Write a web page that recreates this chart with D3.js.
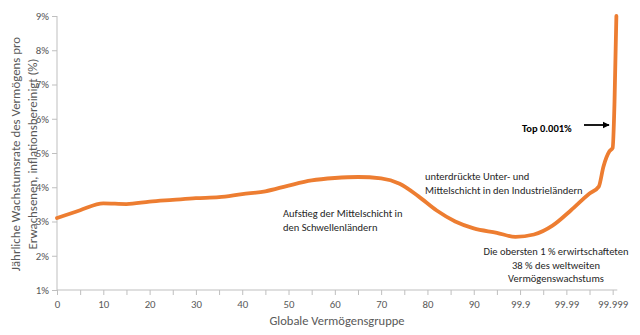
<!DOCTYPE html>
<html>
<head>
<meta charset="utf-8">
<script src="https://cdn.jsdelivr.net/npm/d3@7/dist/d3.min.js"></script>
<style>
  html, body { margin: 0; padding: 0; background: #fff; }
  svg { display: block; }
  text { font-family: Calibri, Carlito, Lato, sans-serif; }
</style>
</head>
<body>
<svg id="chart" width="640" height="335"></svg>
<script>
// Position along the wealth-group axis (each labelled step = 10 units)
const groupPos = [0, 5, 10, 15, 20, 25, 30, 35, 40, 45, 50, 55, 60, 65, 70, 74, 78, 82, 86, 90,
                  95, 99, 103, 107, 111, 115, 117, 118, 119.3, 120, 120.4, 120.8];
// Annual real wealth growth per adult (%)
const growth = [3.1, 3.33, 3.53, 3.51, 3.58, 3.63, 3.68, 3.71, 3.8, 3.88, 4.05, 4.2, 4.27, 4.3, 4.26, 4.1,
                3.74, 3.32, 3.0, 2.8, 2.67, 2.55, 2.62, 2.88, 3.33, 3.82, 4.02, 4.6, 5.05, 5.15, 6.5, 9.0];
// Tick positions and labels
const xTickPos = [0, 10, 20, 30, 40, 50, 60, 70, 80, 90, 100, 110, 120];
const xTickLabels = ["0", "10", "20", "30", "40", "50", "60", "70", "80", "90", "99.9", "99.99", "99.999"];
const yTicks = [1, 2, 3, 4, 5, 6, 7, 8, 9];
const yTitleLines = ["Jährliche Wachstumsrate des Vermögens pro", "Erwachsenen, inflationsbereinigt (%)"];

const svg = d3.select("#chart");
const x = d3.scaleLinear().domain([0, 121]).range([57, 617.3]);
const y = d3.scaleLinear().domain([1, 9]).range([290, 16]);

const axisColor = "#bfbfbf";
const textColor = "#595959";

// Y axis
const yAxis = svg.append("g").attr("transform", `translate(${x(0)},0)`)
  .call(d3.axisLeft(y).tickValues(yTicks).tickSize(5).tickPadding(3).tickFormat(d => d + "%"));
// X axis with minor ticks every 5 units
const xAxis = svg.append("g").attr("transform", `translate(0,${y(1)})`)
  .call(d3.axisBottom(x).tickValues(d3.range(0, 121, 5)).tickSize(5).tickPadding(5)
    .tickFormat(d => { const i = xTickPos.indexOf(d); return i >= 0 ? xTickLabels[i] : ""; }));
[yAxis, xAxis].forEach(g => {
  g.select(".domain").attr("stroke", axisColor);
  g.selectAll(".tick line").attr("stroke", axisColor);
  g.selectAll(".tick text").attr("fill", textColor).style("font-size", "10.8px")
    .style("font-family", "Calibri, Carlito, Lato, sans-serif");
});
xAxis.select(".domain").attr("d", `M${x(0)},0H${x(121)}`);
yAxis.select(".domain").attr("d", `M0,${y(1)}V${y(9)}`);

// Growth curve
const line = d3.line().x((d, i) => x(groupPos[i])).y(d => y(d)).curve(d3.curveMonotoneX);
svg.append("path").datum(growth).attr("d", line)
  .attr("fill", "none").attr("stroke", "#ED7D31").attr("stroke-width", 3.8)
  .attr("stroke-linejoin", "round").attr("stroke-linecap", "round");

// Axis titles
svg.append("text").attr("x", 337).attr("y", 325).attr("text-anchor", "middle")
  .attr("fill", textColor).style("font-size", "12.5px").text("Globale Vermögensgruppe");
yTitleLines.forEach((s, i) => {
  svg.append("text").attr("transform", `translate(${20 + i * 16.5},154) rotate(-90)`)
    .attr("text-anchor", "middle").attr("fill", textColor).style("font-size", "12.9px").text(s);
});

// Annotations
function note(lines, px, py, anchor, lh) {
  const t = svg.append("text").attr("fill", "#262626").attr("text-anchor", anchor)
    .style("font-size", "10.5px");
  lines.forEach((s, i) => t.append("tspan").attr("x", px).attr("y", py + i * lh).text(s));
  return t;
}
note(["Aufstieg der Mittelschicht in", "den Schwellenländern"], 283, 217, "start", 14);
note(["unterdrückte Unter- und", "Mittelschicht in den Industrieländern"], 425, 180, "start", 13.5);
note(["Die obersten 1 % erwirtschafteten", "38 % des weltweiten", "Vermögenswachstums"], 556, 255, "middle", 13.5);
note(["Top 0.001%"], 522, 132, "start", 0).style("font-weight", "bold").attr("fill", "#000");

// Arrow pointing at the top 0.001%
svg.append("defs").append("marker").attr("id", "ah").attr("viewBox", "0 0 10 10")
  .attr("refX", 9).attr("refY", 5).attr("markerWidth", 4).attr("markerHeight", 4)
  .attr("orient", "auto").append("path").attr("d", "M0,0L10,5L0,10Z").attr("fill", "#000");
svg.append("line").attr("x1", 584).attr("y1", 125).attr("x2", 609).attr("y2", 125)
  .attr("stroke", "#000").attr("stroke-width", 1.8).attr("marker-end", "url(#ah)");
</script>
</body>
</html>
